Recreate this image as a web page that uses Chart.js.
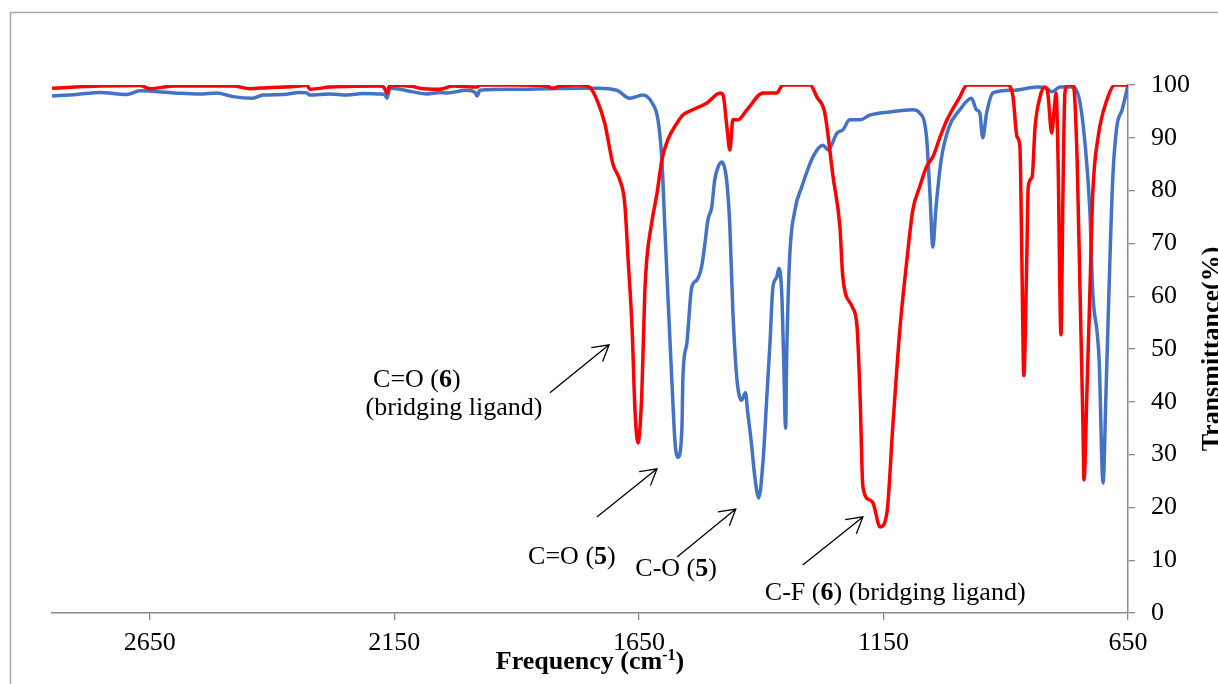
<!DOCTYPE html>
<html>
<head>
<meta charset="utf-8">
<script src="https://cdn.jsdelivr.net/npm/chart.js@4/dist/chart.umd.min.js"></script>
<style>
  body { margin: 0; background: #fff; }
  #wrap { width: 1218px; height: 684px; }
</style>
</head>
<body>
<div id="wrap"><canvas id="chartCanvas" width="1218" height="684"></canvas></div>
<script>
// IR spectra, wavenumber (cm-1) vs transmittance (%)
const blueWave = [2850, 2800, 2752, 2697, 2670, 2600, 2548, 2513, 2480, 2440, 2419, 2378, 2343, 2329, 2323, 2282, 2247, 2214, 2180, 2170, 2165, 2159, 2139, 2112, 2084, 2057, 2043, 2002, 1985, 1981, 1975, 1908, 1838, 1771, 1736, 1695, 1669, 1655, 1642, 1623, 1611, 1603, 1597, 1591, 1583, 1576, 1570, 1562, 1560, 1552, 1542, 1532, 1522, 1515, 1509, 1501, 1495, 1488, 1480, 1474, 1470, 1464, 1458, 1450, 1440, 1432, 1428, 1420, 1413, 1405, 1396, 1388, 1382, 1376, 1368, 1364, 1358, 1354, 1350, 1348, 1342, 1331, 1317, 1294, 1274, 1263, 1245, 1233, 1219, 1198, 1178, 1137, 1090, 1076, 1062, 1055, 1049, 1043, 1032, 1016, 994, 970, 960, 953, 947, 939, 926, 885, 836, 816, 806, 789, 762, 748, 738, 728, 722, 713, 709, 701, 695, 687, 681, 673, 662, 650];
const blueTrans = [97.9, 98.2, 98.6, 98.2, 98.9, 98.5, 98.3, 98.5, 97.8, 97.5, 98.1, 98.2, 98.6, 98.5, 98.1, 98.3, 98.1, 98.4, 98.3, 98.2, 97.5, 99.4, 99.2, 98.7, 98.3, 98.6, 98.5, 99.0, 98.6, 97.9, 99.0, 99.2, 99.3, 99.4, 99.4, 99.0, 97.5, 97.8, 98.1, 96.6, 93.4, 85.8, 73.1, 60.6, 44.7, 32.2, 29.5, 35.2, 44.7, 51.1, 61.7, 63.0, 65.5, 70.0, 74.4, 76.9, 82.0, 84.5, 85.4, 84.0, 81.4, 73.1, 57.4, 44.7, 40.3, 41.7, 38.4, 32.2, 25.8, 21.8, 29.0, 41.7, 51.1, 61.7, 63.6, 65.3, 60.6, 47.9, 35.0, 47.9, 66.9, 76.3, 80.7, 86.4, 88.6, 87.7, 90.9, 91.5, 93.4, 93.4, 94.3, 94.9, 95.3, 94.7, 90.2, 79.5, 69.3, 76.3, 85.8, 92.0, 95.3, 97.5, 95.3, 94.7, 90.0, 94.7, 98.5, 99.0, 99.6, 99.4, 98.7, 99.6, 99.6, 96.6, 89.0, 76.3, 60.6, 53.0, 47.9, 24.6, 41.7, 66.9, 82.6, 92.0, 95.3, 100];

const redWave = [2850, 2752, 2670, 2650, 2600, 2480, 2445, 2411, 2343, 2329, 2323, 2282, 2180, 2171, 2165, 2159, 2112, 2098, 2057, 2030, 1981, 1975, 1900, 1838, 1828, 1810, 1771, 1750, 1735, 1720, 1703, 1689, 1679, 1672, 1664, 1658, 1652, 1644, 1638, 1634, 1623, 1613, 1603, 1591, 1572, 1560, 1540, 1511, 1484, 1478, 1470, 1464, 1458, 1448, 1429, 1396, 1368, 1356, 1300, 1286, 1270, 1253, 1239, 1233, 1214, 1204, 1198, 1192, 1178, 1171, 1157, 1143, 1131, 1116, 1102, 1090, 1076, 1062, 1049, 1034, 1020, 994, 979, 897, 885, 877, 871, 867, 863, 857, 854, 846, 840, 830, 820, 814, 806, 801, 797, 793, 787, 783, 779, 773, 762, 754, 748, 742, 740, 734, 728, 722, 711, 693, 677, 650];
const redTrans = [99.4, 99.8, 99.9, 99.3, 99.8, 99.8, 99.3, 99.5, 99.8, 100, 99.2, 99.6, 99.8, 99.5, 98.5, 100, 99.7, 99.4, 99.2, 99.8, 99.6, 100, 100, 99.8, 99.4, 99.8, 100, 99.5, 97.0, 92.8, 85.0, 82.0, 77.6, 66.9, 54.0, 38.4, 32.2, 41.7, 60.6, 66.9, 74.4, 79.5, 85.8, 89.6, 92.8, 94.3, 95.3, 96.6, 98.5, 98.1, 92.0, 87.7, 93.4, 93.4, 95.3, 98.5, 98.5, 100, 100, 97.7, 94.7, 82.6, 73.1, 63.6, 58.0, 54.2, 41.7, 23.9, 21.4, 20.8, 16.3, 18.9, 35.2, 54.2, 66.9, 76.3, 80.7, 84.5, 86.4, 90.2, 93.4, 97.7, 100, 100, 97.7, 90.2, 88.3, 66.9, 45.0, 66.9, 80.7, 82.6, 92.0, 97.7, 99.6, 98.5, 90.9, 95.3, 98.5, 85.8, 52.7, 79.5, 98.5, 100, 100, 85.8, 60.6, 35.2, 25.2, 41.7, 60.6, 79.5, 90.2, 97.2, 100, 100];

const xTicks = [2650, 2150, 1650, 1150, 650];
const yTicks = [0, 10, 20, 30, 40, 50, 60, 70, 80, 90, 100];

// annotation labels: text runs ([text, bold]) and position in data units
const labels = [
    { runs: [['C=O (', false], ['6', true], [')', false]], x: 2104, y: 44.1 },
    { runs: [['(bridging ligand)', false]], x: 2028, y: 38.8 },
    { runs: [['C=O (', false], ['5', true], [')', false]], x: 1787, y: 10.6 },
    { runs: [['C-O (', false], ['5', true], [')', false]], x: 1574, y: 8.3 },
    { runs: [['C-F (', false], ['6', true], [') (bridging ligand)', false]], x: 1126, y: 3.8 }
];
// arrows: from [x, y] to [x, y] in data units
const arrows = [
    [[1832, 41.7], [1711, 50.8]],
    [[1736, 18.2], [1613, 27.3]],
    [[1572, 10.6], [1452, 19.7]],
    [[1315, 9.1], [1192, 18.2]]
];

const serif = "'Liberation Serif', 'Times New Roman', serif";
const fontSize = 26;

function drawRuns(ctx, runs, cx, cy) {
    let total = 0;
    let widths = runs.map(r => {
        ctx.font = (r[1] ? 'bold ' : '') + fontSize + 'px ' + serif;
        let w = ctx.measureText(r[0]).width;
        total += w;
        return w;
    });
    let x = cx - total / 2;
    runs.forEach((r, i) => {
        ctx.font = (r[1] ? 'bold ' : '') + fontSize + 'px ' + serif;
        ctx.fillText(r[0], x, cy);
        x += widths[i];
    });
}

const extras = {
    id: 'extras',
    afterDraw(chart) {
        let ctx = chart.ctx;
        let xs = chart.scales.x, ys = chart.scales.y;
        ctx.save();

        // outer frame
        ctx.strokeStyle = '#a6a6a6';
        ctx.lineWidth = 1.5;
        ctx.beginPath();
        ctx.moveTo(10.5, 684);
        ctx.lineTo(10.5, 12.5);
        ctx.lineTo(1218, 12.5);
        ctx.stroke();

        // labels
        ctx.fillStyle = '#000';
        ctx.textBaseline = 'middle';
        ctx.textAlign = 'left';
        labels.forEach(l => drawRuns(ctx, l.runs, xs.getPixelForValue(l.x), ys.getPixelForValue(l.y)));

        // arrows
        ctx.strokeStyle = '#000';
        ctx.lineWidth = 1.3;
        arrows.forEach(a => {
            let x0 = xs.getPixelForValue(a[0][0]), y0 = ys.getPixelForValue(a[0][1]);
            let x1 = xs.getPixelForValue(a[1][0]), y1 = ys.getPixelForValue(a[1][1]);
            let ang = Math.atan2(y1 - y0, x1 - x0);
            let len = 18, spread = Math.PI / 6;
            ctx.beginPath();
            ctx.moveTo(x0, y0);
            ctx.lineTo(x1, y1);
            ctx.moveTo(x1 - len * Math.cos(ang - spread), y1 - len * Math.sin(ang - spread));
            ctx.lineTo(x1, y1);
            ctx.lineTo(x1 - len * Math.cos(ang + spread), y1 - len * Math.sin(ang + spread));
            ctx.stroke();
        });

        // x title with superscript
        let area = chart.chartArea;
        let cx = (area.left + area.right) / 2;
        let base = 669;
        let parts = [['Frequency (cm', fontSize, 0], ['-1', 16, -9], [')', fontSize, 0]];
        let total = 0;
        parts.forEach(p => { ctx.font = 'bold ' + p[1] + 'px ' + serif; total += ctx.measureText(p[0]).width; });
        let x = cx - total / 2;
        ctx.textBaseline = 'alphabetic';
        parts.forEach(p => {
            ctx.font = 'bold ' + p[1] + 'px ' + serif;
            ctx.fillText(p[0], x, base + p[2]);
            x += ctx.measureText(p[0]).width;
        });

        // y title, rotated, reading upwards
        ctx.translate(1219, (area.top + area.bottom) / 2);
        ctx.rotate(-Math.PI / 2);
        ctx.font = 'bold ' + fontSize + 'px ' + serif;
        ctx.textAlign = 'center';
        ctx.fillText('Transmittance(%)', 0, 0);
        ctx.restore();
    }
};

let ctx = document.getElementById('chartCanvas').getContext('2d');
let chart = new Chart(ctx, {
    type: 'line',
    data: {
        datasets: [{
            label: 'Complex 5',
            data: blueWave.map((w, i) => ({ x: w, y: blueTrans[i] })),
            borderColor: '#4472C4',
            borderWidth: 3.5,
            pointRadius: 0,
            cubicInterpolationMode: 'monotone',
            order: 2
        }, {
            label: 'Complex 6',
            data: redWave.map((w, i) => ({ x: w, y: redTrans[i] })),
            borderColor: '#FF0000',
            borderWidth: 3.5,
            pointRadius: 0,
            cubicInterpolationMode: 'monotone',
            order: 1
        }]
    },
    options: {
        responsive: false,
        animation: false,
        layout: { padding: { left: 52, top: 85, right: 0, bottom: 0 } },
        plugins: { legend: { display: false }, tooltip: { enabled: false } },
        scales: {
            x: {
                type: 'linear',
                reverse: true,
                min: 650,
                max: 2850,
                afterBuildTicks: s => { s.ticks = xTicks.map(v => ({ value: v })); },
                afterFit: s => { s.height = 71; },
                grid: { drawOnChartArea: false, drawTicks: true, tickLength: 7, color: '#898989', lineWidth: 1.3 },
                border: { display: true, color: '#898989', width: 1.5 },
                ticks: { color: '#000', padding: 8, maxRotation: 0, callback: v => String(v), font: { family: serif, size: fontSize } }
            },
            y: {
                position: 'right',
                min: 0,
                max: 100,
                afterBuildTicks: s => { s.ticks = yTicks.map(v => ({ value: v })); },
                afterFit: s => { s.width = 90; },
                grid: { drawOnChartArea: false, drawTicks: true, tickLength: 7, color: '#898989', lineWidth: 1.3 },
                border: { display: true, color: '#898989', width: 1.5 },
                ticks: { color: '#000', padding: 16, callback: v => String(v), font: { family: serif, size: fontSize } }
            }
        }
    },
    plugins: [extras]
});
</script>
</body>
</html>
